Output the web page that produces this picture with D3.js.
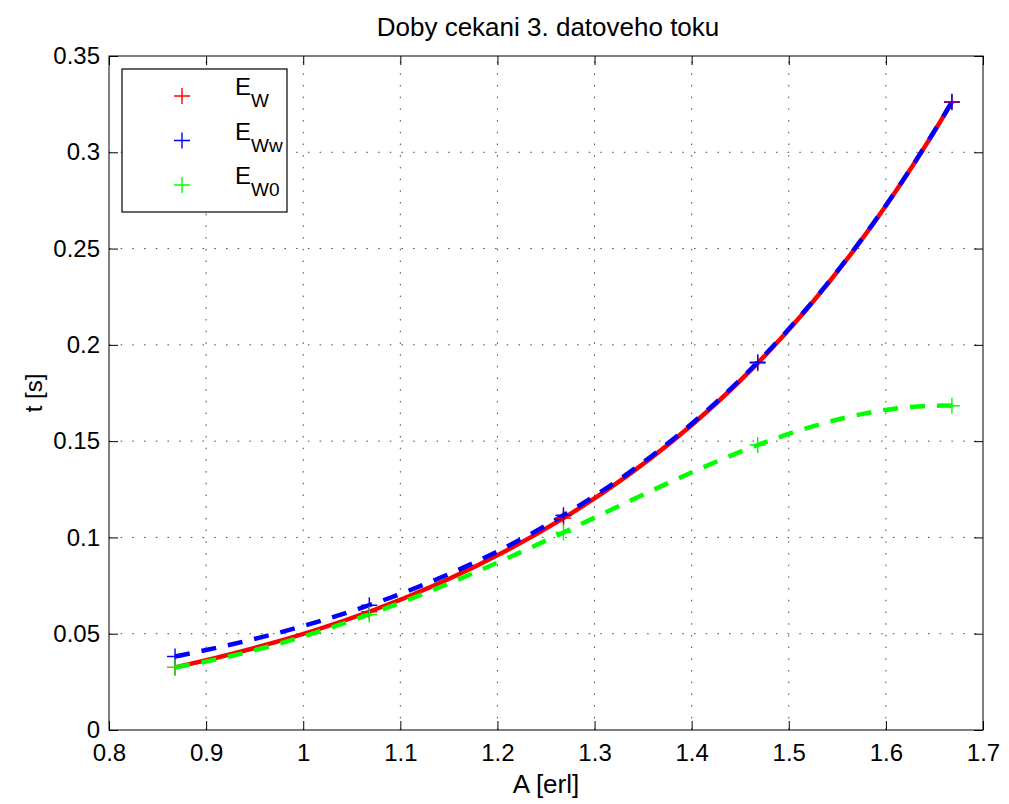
<!DOCTYPE html>
<html><head><meta charset="utf-8">
<script src="https://cdn.jsdelivr.net/npm/d3@7"></script>
<style>body{margin:0;background:#fff}svg{display:block}text{font-family:"Liberation Sans",Arial,sans-serif}</style>
</head><body><div id="chart"></div>
<script>
const A = [0.868, 1.068, 1.268, 1.468, 1.668];
const EW  = [0.0325, 0.0614, 0.1100, 0.1905, 0.3260];
const EWw = [0.0382, 0.0648, 0.1115, 0.1910, 0.3262];
const EW0 = [0.0325, 0.0600, 0.1026, 0.1480, 0.1684];
const xTicks = [0.8,0.9,1,1.1,1.2,1.3,1.4,1.5,1.6,1.7];
const yTicks = [0,0.05,0.1,0.15,0.2,0.25,0.3,0.35];
const series = [
  {name:"W", values:EW, color:"#ff0000", dash:null},
  {name:"Ww", values:EWw, color:"#0000ff", dash:"15,12"},
  {name:"W0", values:EW0, color:"#00ff00", dash:"15,12"}
];
// not-a-knot cubic spline curve (like MATLAB spline), emitted as Bezier segments
function curveSpline(context){
  return {
    areaStart(){}, areaEnd(){},
    lineStart(){this.xs=[];this.ys=[];},
    point(px,py){this.xs.push(+px);this.ys.push(+py);},
    lineEnd(){
      const X=this.xs,Y=this.ys,n=X.length;
      if(!n) return;
      context.moveTo(X[0],Y[0]);
      if(n<4){for(let i=1;i<n;i++)context.lineTo(X[i],Y[i]);return;}
      const h=[];for(let i=0;i<n-1;i++)h.push(X[i+1]-X[i]);
      const Mx=[],b=[];
      for(let i=0;i<n;i++){Mx.push(new Array(n).fill(0));b.push(0);}
      Mx[0][0]=h[1];Mx[0][1]=-(h[0]+h[1]);Mx[0][2]=h[0];
      for(let i=1;i<n-1;i++){Mx[i][i-1]=h[i-1];Mx[i][i]=2*(h[i-1]+h[i]);Mx[i][i+1]=h[i];
        b[i]=6*((Y[i+1]-Y[i])/h[i]-(Y[i]-Y[i-1])/h[i-1]);}
      Mx[n-1][n-3]=h[n-2];Mx[n-1][n-2]=-(h[n-3]+h[n-2]);Mx[n-1][n-1]=h[n-3];
      // gaussian elimination with pivoting
      for(let c=0;c<n;c++){
        let p=c;for(let r=c+1;r<n;r++)if(Math.abs(Mx[r][c])>Math.abs(Mx[p][c]))p=r;
        [Mx[c],Mx[p]]=[Mx[p],Mx[c]];[b[c],b[p]]=[b[p],b[c]];
        for(let r=c+1;r<n;r++){const f=Mx[r][c]/Mx[c][c];for(let k=c;k<n;k++)Mx[r][k]-=f*Mx[c][k];b[r]-=f*b[c];}
      }
      const M=new Array(n).fill(0);
      for(let r=n-1;r>=0;r--){let s=b[r];for(let k=r+1;k<n;k++)s-=Mx[r][k]*M[k];M[r]=s/Mx[r][r];}
      for(let i=0;i<n-1;i++){
        const d=(Y[i+1]-Y[i])/h[i];
        const m0=d-h[i]*(2*M[i]+M[i+1])/6, m1=d+h[i]*(M[i]+2*M[i+1])/6;
        context.bezierCurveTo(X[i]+h[i]/3,Y[i]+m0*h[i]/3,X[i+1]-h[i]/3,Y[i+1]-m1*h[i]/3,X[i+1],Y[i+1]);
      }
    }
  };
}
const W=1009,H=804, L=109,R=983,T=56,B=730;
const svg=d3.select("#chart").append("svg").attr("width",W).attr("height",H);
svg.append("rect").attr("width",W).attr("height",H).attr("fill","#fff");
const x=d3.scaleLinear().domain([0.8,1.7]).range([L,R]);
const y=d3.scaleLinear().domain([0,0.35]).range([B,T]);
const fmt=d=>String(+d.toFixed(2));
// grid
const g=svg.append("g");
g.selectAll(".gx").data(xTicks.slice(1,-1)).join("line")
 .attr("x1",d=>x(d)).attr("x2",d=>x(d)).attr("y1",B).attr("y2",T)
 .attr("stroke","#444").attr("stroke-width",1).attr("stroke-dasharray","1.5,10.2");
g.selectAll(".gy").data(yTicks.slice(1,-1)).join("line")
 .attr("y1",d=>y(d)).attr("y2",d=>y(d)).attr("x1",L).attr("x2",R)
 .attr("stroke","#444").attr("stroke-width",1).attr("stroke-dasharray","1.5,10.2");
// axes
const ax=(gen,tr)=>{const a=svg.append("g").attr("transform",tr).call(gen);a.select(".domain").remove();a.selectAll("line").attr("stroke","#000");a.selectAll("text").attr("font-size",24).attr("fill","#000").attr("font-family","Liberation Sans, Arial, sans-serif");return a;};
ax(d3.axisBottom(x).tickValues(xTicks).tickFormat(fmt).tickSizeInner(-9).tickSizeOuter(0).tickPadding(14),`translate(0,${B})`);
ax(d3.axisTop(x).tickValues(xTicks).tickFormat("").tickSizeInner(-9).tickSizeOuter(0),`translate(0,${T})`);
ax(d3.axisLeft(y).tickValues(yTicks).tickFormat(fmt).tickSizeInner(-9).tickSizeOuter(0).tickPadding(9),`translate(${L},0)`);
ax(d3.axisRight(y).tickValues(yTicks).tickFormat("").tickSizeInner(-9).tickSizeOuter(0),`translate(${R},0)`);
svg.append("rect").attr("x",L).attr("y",T).attr("width",R-L).attr("height",B-T).attr("fill","none").attr("stroke","#000").attr("stroke-width",1);
// lines
const line=d3.line().x(d=>x(d[0])).y(d=>y(d[1])).curve(curveSpline);
series.forEach(s=>{
  svg.append("path").datum(A.map((a,i)=>[a,s.values[i]])).attr("d",line)
   .attr("fill","none").attr("stroke",s.color).attr("stroke-width",4.5)
   .attr("stroke-dasharray",s.dash);
});
// markers
const plus=(sel,cx,cy,c,h)=>{sel.append("path").attr("d",`M${cx-h},${cy}H${cx+h}M${cx},${cy-h}V${cy+h}`).attr("stroke",c).attr("stroke-width",1.4).attr("fill","none");};
series.forEach(s=>{A.forEach((a,i)=>plus(svg,x(a),y(s.values[i]),s.color,8));});
// legend
svg.append("rect").attr("x",122).attr("y",69).attr("width",165).attr("height",143).attr("fill","#fff").attr("stroke","#000").attr("stroke-width",1.2);
series.forEach((s,i)=>{
  const cy=96+i*44.5;
  plus(svg,182,cy,s.color,8);
  const t=svg.append("text").attr("x",235).attr("y",cy-1).attr("font-size",24).attr("fill","#000");
  t.append("tspan").text("E");
  t.append("tspan").attr("dy",12).attr("font-size",19).text(s.name);
});
// titles
svg.append("text").attr("x",(L+R)/2+2).attr("y",36).attr("text-anchor","middle").attr("font-size",26).text("Doby cekani 3. datoveho toku");
svg.append("text").attr("x",(L+R)/2).attr("y",793).attr("text-anchor","middle").attr("font-size",26).text("A [erl]");
svg.append("text").attr("transform","translate(42,393) rotate(-90)").attr("text-anchor","middle").attr("font-size",24).text("t [s]");
</script></body></html>
